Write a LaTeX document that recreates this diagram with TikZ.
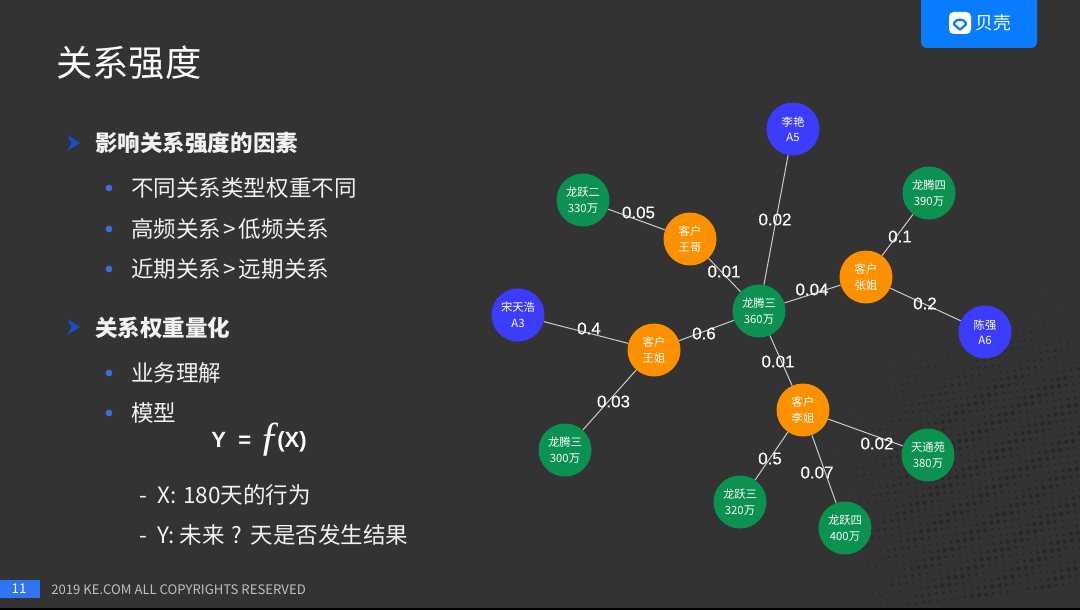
\documentclass[tikz,border=0pt]{standalone}
\usepackage{fontspec}
\setmainfont{Noto Sans CJK SC}
\newfontfamily\numfont[FakeBold=0.35]{Liberation Sans}
\newfontfamily\plainsans{Liberation Sans}
\newfontfamily\fnfont{Liberation Serif}
\definecolor{bgcol}{HTML}{333333}
\definecolor{dotcol}{HTML}{272727}
\definecolor{greennode}{HTML}{0B9150}
\definecolor{orangenode}{HTML}{FF9000}
\definecolor{bluenode}{HTML}{3C3CFF}
\definecolor{logoblue}{HTML}{0A7CFF}
\definecolor{footblue}{HTML}{2F74F0}
\definecolor{bulletblue}{HTML}{3B6FE0}
\definecolor{arrowblue}{HTML}{1450C8}
\definecolor{bodytext}{HTML}{F2F2F2}
\tikzset{
  x=0.75pt,y=-0.75pt,
  person/.style={circle,inner sep=0pt,minimum size=39.75pt,text=white,align=center,font=\fontsize{8.5}{11.6}\selectfont,execute at begin node={\rule{0pt}{11.5pt}}},
  cust/.style={person,fill=greennode},
  client/.style={person,fill=orangenode},
  agent/.style={person,fill=bluenode},
  link/.style={draw=white!80!black,line width=0.75pt},
  weight/.style={inner sep=0pt,text=white,font=\numfont\fontsize{12.7}{14}\selectfont},
  body/.style={anchor=west,inner sep=0pt,text=bodytext,font=\fontsize{16.9}{20}\selectfont},
  head/.style={anchor=west,inner sep=0pt,text=bodytext,font=\fontsize{16.9}{20}\selectfont\bfseries},
  dotb/.style={circle,fill=bulletblue,inner sep=0pt,minimum size=5pt},
}
\begin{document}
\begin{tikzpicture}
\useasboundingbox (0,0) rectangle (1080,610);
\fill[bgcol] (0,0) rectangle (1080,610);
% halftone
\begin{scope}
\clip (0,0) rectangle (1080,607);
\foreach \i in {0,...,44}{
 \foreach \j in {0,...,48}{
  \pgfmathsetmacro{\px}{775+7*\i+0.9*\j}
  \pgfmathsetmacro{\py}{280+7*\j-0.9*\i}
  \pgfmathsetmacro{\rr}{veclen(\px-1040,\py-510)}
  \pgfmathsetmacro{\dr}{\rr<235?(2.2*min(1,(235-\rr)/110)*(0.72+0.28*sin(\px*7+\py*11))):0}
  \ifdim\dr pt>0.3pt
    \fill[dotcol] (\px,\py) circle[radius=\dr];
  \fi
 }
}
\end{scope}
\fill[black] (0,608) rectangle (1080,610);
% title
\node[anchor=west,inner sep=0pt,text=white,font=\fontsize{27.2}{32}\selectfont] (title) at (56,63) {关系强度};
% logo
\fill[logoblue,rounded corners=4.5pt] (921,-10) rectangle (1037,48);
\fill[white,rounded corners=3.5pt] (949,12) rectangle (971,34);
\draw[logoblue,line width=1.7pt,line cap=round] (954,23) .. controls (956,18.5) and (964,18.5) .. (966,23);
\draw[logoblue,line width=1.7pt,line cap=round,line join=round] (954,24.5) -- (960,29.5) -- (966,24.5);
\node[inner sep=0pt,text=white,font=\fontsize{13.3}{16}\selectfont] (logotext) at (993,23) {贝壳};
% text
\fill[arrowblue] (67,135) -- (80,143) -- (67,151) -- (71.5,143) -- cycle;
\node[head] (h1) at (95,143) {影响关系强度的因素};
\node[dotb] at (109,188) {};
\node[body] (b1) at (131,188) {不同关系类型权重不同};
\node[dotb] at (109,229) {};
\node[body] (b2) at (131,229) {高频关系\hspace{1.9pt}>\hspace{1.9pt}低频关系};
\node[dotb] at (109,269) {};
\node[body] (b3) at (131,269) {近期关系\hspace{1.9pt}>\hspace{1.9pt}远期关系};
\fill[arrowblue] (67,319) -- (80,327) -- (67,335) -- (71.5,327) -- cycle;
\node[head] (h2) at (95,328) {关系权重量化};
\node[dotb] at (109,373) {};
\node[body] (b4) at (131,373) {业务理解};
\node[dotb] at (109,413) {};
\node[body] (b5) at (131,413) {模型};
\node[anchor=base west,inner sep=0pt,text=white,font=\plainsans\bfseries\fontsize{16.5}{20}\selectfont] (fy) at (211,447) {Y};
\node[anchor=base west,inner sep=0pt,text=white,font=\plainsans\bfseries\fontsize{16.5}{20}\selectfont] (feq) at (238,447) {=};
\node[anchor=base west,inner sep=0pt,text=white,font=\fnfont\itshape\fontsize{31}{33}\selectfont] (ff) at (259,450) {ƒ};
\node[anchor=base west,inner sep=0pt,text=white,font=\plainsans\bfseries\fontsize{16.5}{20}\selectfont] (fx) at (277,447) {(X)};
\node[body] (d1) at (139,495) {-\hspace{3.75pt} X:\hspace{1.5pt} 180天的行为};
\node[body] (d2) at (139,535) {-\hspace{3.75pt} Y: 未来\hspace{1pt} ?\hspace{1.4pt} 天是否发生结果};
% footer
\fill[footblue] (0,580) rectangle (40,598);
\node[inner sep=0pt,text=white,font=\fontsize{10}{12}\selectfont] (pg) at (19,589) {11};
\node[anchor=west,inner sep=0pt,text=white!75!black,font=\fontsize{9.85}{12}\selectfont] (foot) at (51,589.5) {2019 KE.COM ALL COPYRIGHTS RESERVED};
% nodes
\node[agent] (a5) at (793,129) {李艳\\A5};
\node[cust] (lt4) at (929,193) {龙腾四\\390万};
\node[client] (zj) at (866,277) {客户\\张姐};
\node[agent] (a6) at (985,332) {陈强\\A6};
\node[cust] (lt3) at (759,311) {龙腾三\\360万};
\node[client] (wg) at (690,239) {客户\\王哥};
\node[cust] (ly2) at (583,200) {龙跃二\\330万};
\node[agent] (a3) at (518,315) {宋天浩\\A3};
\node[client] (wj) at (654,350) {客户\\王姐};
\node[cust] (lt3b) at (565,450) {龙腾三\\300万};
\node[client] (lj) at (803,410) {客户\\李姐};
\node[cust] (ty) at (928,455) {天通苑\\380万};
\node[cust] (ly3) at (740,502) {龙跃三\\320万};
\node[cust] (ly4) at (845,528) {龙跃四\\400万};
% links
\draw[link] (a5) -- (lt3);
\draw[link] (lt4) -- (zj);
\draw[link] (zj) -- (a6);
\draw[link] (zj) -- (lt3);
\draw[link] (wg) -- (lt3);
\draw[link] (ly2) -- (wg);
\draw[link] (a3) -- (wj);
\draw[link] (wj) -- (lt3);
\draw[link] (lt3) -- (lj);
\draw[link] (wj) -- (lt3b);
\draw[link] (lj) -- (ty);
\draw[link] (lj) -- (ly3);
\draw[link] (lj) -- (ly4);
% weights
\node[weight] (w1) at (775,219.5) {0.02};
\node[weight] (w2) at (900,236.5) {0.1};
\node[weight] (w3) at (925,303.5) {0.2};
\node[weight] (w4) at (812,289.5) {0.04};
\node[weight] (w5) at (724,271.5) {0.01};
\node[weight] (w6) at (638.5,212.5) {0.05};
\node[weight] (w7) at (589,328.5) {0.4};
\node[weight] (w8) at (704,333.5) {0.6};
\node[weight] (w9) at (778,361.5) {0.01};
\node[weight] (w10) at (613.5,401.5) {0.03};
\node[weight] (w11) at (877,443.5) {0.02};
\node[weight] (w12) at (770,458.5) {0.5};
\node[weight] (w13) at (817,472.5) {0.07};
\end{tikzpicture}
\end{document}
